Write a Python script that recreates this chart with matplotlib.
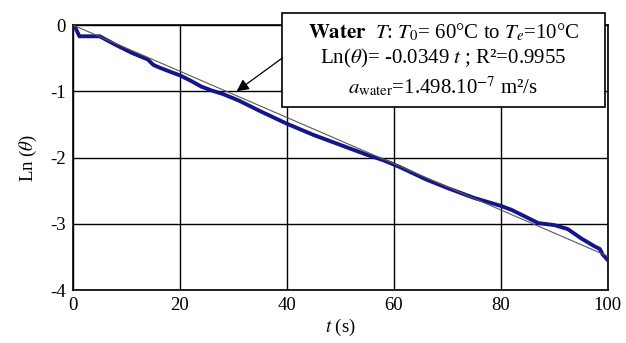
import numpy as np
import matplotlib.pyplot as plt
from matplotlib.patches import Rectangle

plt.rcParams['font.family'] = ['Liberation Serif', 'DejaVu Serif']
plt.rcParams['mathtext.fontset'] = 'stix'
plt.rcParams['axes.unicode_minus'] = False

# measured cooling curve, Ln(theta) against time
t_meas = [0, 0.5, 1.2, 3, 5, 8, 11, 14, 15, 15.8, 18, 20, 22, 24, 26, 28, 31,
          35, 40, 45, 50, 55, 58, 61, 66, 70, 75, 80, 82, 85, 87, 90, 92.5,
          95, 97.5, 98.5, 99, 100]
ln_meas = [0, -0.05, -0.17, -0.17, -0.17, -0.3, -0.42, -0.52, -0.6, -0.63,
           -0.7, -0.76, -0.84, -0.93, -0.99, -1.04, -1.14, -1.3, -1.49, -1.66,
           -1.81, -1.96, -2.04, -2.14, -2.33, -2.46, -2.61, -2.73, -2.79,
           -2.91, -2.99, -3.02, -3.08, -3.22, -3.34, -3.38, -3.46, -3.55]

slope = -0.0349
t_fit = [0, 100]

fig = plt.figure(figsize=(6.26, 3.43), dpi=100)
ax = fig.add_axes([0.1166, 0.1545, 0.8544, 0.7725])

ax.plot(t_meas, ln_meas, color='#15158a', lw=2.8, zorder=3)
ax.plot(t_fit, [slope * x for x in t_fit], color='0.35', lw=0.8, zorder=4)

ax.set_xlim(0, 100)
ax.set_ylim(-4, 0)
ax.set_xticks([0, 20, 40, 60, 80, 100])
ax.set_yticks([0, -1, -2, -3, -4])
ax.grid(True, color='black', lw=1.0)
ax.tick_params(length=0, labelsize=13.5, pad=5)
for s in ax.spines.values():
    s.set_linewidth(1.2)

ax.set_xlabel(r'$t$ (s)', fontsize=13.5, labelpad=2)
ax.set_ylabel(r'Ln ($\theta$)', fontsize=13.5, labelpad=8)

# regression box, partly above the plotting area
box = Rectangle((39.1, -1.24), 60.3, 1.42, fc='white', ec='black', lw=1.2,
                zorder=6, clip_on=False)
ax.add_patch(box)
label = ('$\\mathbf{Water}$  $T$: $T_0$= 60°C to $T_e$=10°C\n'
         'Ln($\\theta$)= -0.0349 $t$ ; R²=0.9955\n'
         '$a_{\\mathrm{water}}$=1.498.10$^{-7}$ m²/s')
ax.text(69.25, -0.53, label, ha='center', va='center', fontsize=15,
        linespacing=1.25, zorder=7)
ax.annotate('', xy=(30.6, -1.0), xytext=(39.1, -0.5),
            arrowprops=dict(arrowstyle='-|>', color='black', lw=0.9,
                            mutation_scale=18, shrinkA=0, shrinkB=0),
            zorder=6, annotation_clip=False)

fig.savefig('out.png', dpi=100)
